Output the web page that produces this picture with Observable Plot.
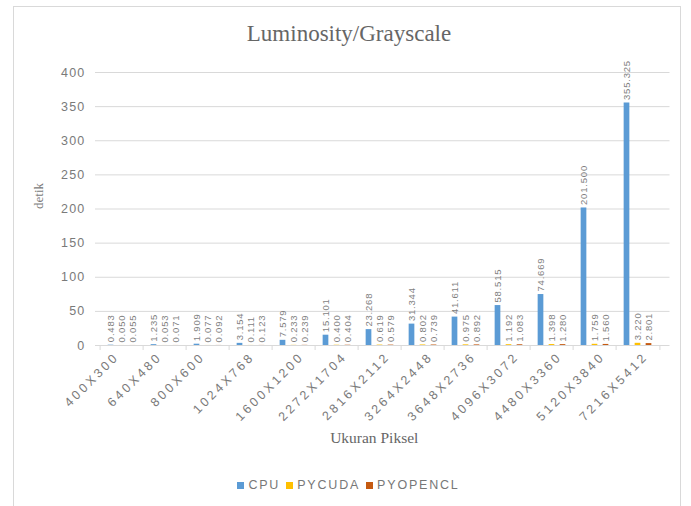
<!DOCTYPE html>
<html>
<head>
<meta charset="utf-8">
<script src="https://cdn.jsdelivr.net/npm/d3@7"></script>
<script src="https://cdn.jsdelivr.net/npm/@observablehq/plot@0.6"></script>
<style>
  body { margin: 0; background: #fff; }
  #frame { position: absolute; left: 13px; top: 6px; width: 668px; height: 520px; border: 1px solid #d9d9d9; box-sizing: border-box; }
  #title { position: absolute; left: 0; top: 21px; width: 698px; text-align: center; font: 23px "Liberation Serif", serif; color: #666; }
  #chart { position: absolute; left: 0; top: 50px; }
  #legend { position: absolute; left: 0; top: 478px; width: 691px; display: flex; justify-content: center; align-items: center; font: 12.5px "Liberation Sans", sans-serif; color: #777; letter-spacing: 1.8px; }
  #legend span.sw { display: inline-block; width: 7px; height: 7px; margin: 0 4px 0 6px; }
  #chart g[aria-label="y-axis tick label"] text { font: 12.5px "Liberation Sans", sans-serif; letter-spacing: 1.2px; }
</style>
</head>
<body>
<div id="frame"></div>
<div id="title">Luminosity/Grayscale</div>
<div id="chart"></div>
<div id="legend"></div>
<script>
// Image sizes (pixels) tested
const sizes = ["400X300", "640X480", "800X600", "1024X768", "1600X1200", "2272X1704", "2816X2112",
  "3264X2448", "3648X2736", "4096X3072", "4480X3360", "5120X3840", "7216X5412"];

// Processing time in seconds (detik) per implementation
const cpu = [0.483, 1.235, 1.909, 3.154, 7.579, 15.101, 23.268, 31.344, 41.611, 58.515, 74.669, 201.500, 355.325];
const pycuda = [0.050, 0.053, 0.077, 0.111, 0.233, 0.400, 0.619, 0.802, 0.975, 1.192, 1.398, 1.759, 3.220];
const pyopencl = [0.055, 0.071, 0.092, 0.123, 0.239, 0.404, 0.579, 0.739, 0.892, 1.083, 1.280, 1.560, 2.801];

const seriesNames = ["CPU", "PYCUDA", "PYOPENCL"];
const seriesColors = ["#5b9bd5", "#ffc000", "#c55a11"];
const yTicks = [0, 50, 100, 150, 200, 250, 300, 350, 400];

const rows = sizes.map((s, i) => ({size: s, cpu: cpu[i], pycuda: pycuda[i], pyopencl: pyopencl[i]}));
const keys = ["cpu", "pycuda", "pyopencl"];

const width = 691, height = 405;
const marginLeft = 95, marginRight = 26.5;
const step = (width - marginLeft - marginRight) / sizes.length;
const barWidth = 6.5, offset = 11;
const inset = (step - barWidth) / 2;
const grid = "#d9d9d9";

const seriesMarks = keys.flatMap((k, j) => [
  Plot.barY(rows, {x: "size", y: k, fill: seriesColors[j], insetLeft: inset, insetRight: inset, dx: (j - 1) * offset}),
  Plot.text(rows, {x: "size", y: k, text: d => d[k].toFixed(3), rotate: -90, textAnchor: "start",
    dx: (j - 1) * offset, dy: -3, fill: "#7f7f7f", fontSize: 9.5, fontFamily: "Liberation Sans"})
]);

const chart = Plot.plot({
  width, height,
  marginTop: 22, marginBottom: 110, marginLeft, marginRight,
  style: {color: "#7a7a7a", background: "transparent"},
  x: {domain: sizes, padding: 0, axis: null},
  y: {domain: [0, 400], axis: null},
  marks: [
    Plot.ruleY(yTicks, {stroke: grid, insetRight: -5}),
    Plot.axisX({tickSize: 5, text: null, label: null, dx: -step / 2, stroke: grid}),
    Plot.axisX({ticks: [sizes[sizes.length - 1]], tickSize: 5, text: null, label: null, dx: step / 2, stroke: grid}),
    // slanted category labels
    Plot.text(sizes, {x: d => d, frameAnchor: "bottom", rotate: -45, textAnchor: "end", lineAnchor: "middle",
      dy: 9, fill: "#7a7a7a", fontSize: 12.5, fontFamily: "Liberation Sans"}),
    Plot.axisY({ticks: yTicks, tickSize: 0, tickPadding: 10, label: null}),
    ...seriesMarks,
    Plot.text(["detik"], {frameAnchor: "left", dx: -57, rotate: -90, fill: "#7a7a7a",
      fontSize: 13, fontFamily: "Liberation Serif"}),
    Plot.text(["Ukuran Piksel"], {frameAnchor: "bottom", dx: -6, dy: 97, fill: "#666",
      fontSize: 15.5, fontFamily: "Liberation Serif"})
  ]
});
document.getElementById("chart").append(chart);

const svg = d3.select(chart);

// Slightly spaced digits for the rotated value labels
svg.selectAll("text")
  .filter(function() { return /^\d+\.\d{3}$/.test(this.textContent) && /rotate/.test(this.getAttribute("transform") || ""); })
  .style("letter-spacing", "0.8px");

// Spreadsheet-style placement of slanted category labels: longer labels sit further right
svg.selectAll("text")
  .filter(function() { return /^\d+X\d+$/.test(this.textContent); })
  .style("letter-spacing", "3px")
  .attr("transform", function() {
    const shift = (this.textContent.length - 9) * 6.5 + 8;
    return `translate(${shift},0) ` + (this.getAttribute("transform") || "");
  });

// Legend
const legend = d3.select("#legend");
seriesNames.forEach((name, j) => {
  legend.append("span").attr("class", "sw").style("background", seriesColors[j]);
  legend.append("span").text(name);
});
</script>
</body>
</html>
